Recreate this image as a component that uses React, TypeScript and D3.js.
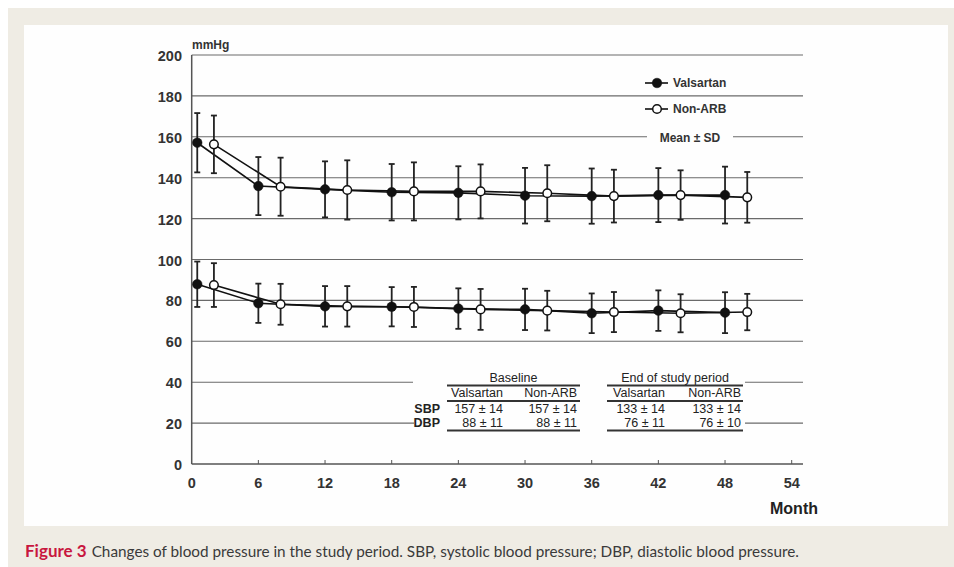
import React, { useRef, useEffect } from 'react';
import * as d3 from 'd3';

// months at which each group was measured (groups are offset so bars don't overlap)
const valsartanMonths = [0.5, 6, 12, 18, 24, 30, 36, 42, 48];
const nonArbMonths = [2, 8, 14, 20, 26, 32, 38, 44, 50];

const sbpValsartan = [157.1, 135.9, 134.3, 132.9, 132.6, 131.2, 131.0, 131.5, 131.5];
const sbpValsartanSd = [14.5, 14.2, 13.7, 13.8, 13.0, 13.6, 13.5, 13.2, 13.9];
const sbpNonArb = [156.3, 135.6, 134.0, 133.3, 133.3, 132.4, 131.0, 131.5, 130.4];
const sbpNonArbSd = [14.1, 14.2, 14.5, 14.2, 13.2, 13.7, 12.9, 12.1, 12.4];

const dbpValsartan = [87.9, 78.6, 77.1, 76.9, 76.0, 75.6, 73.7, 75.0, 74.0];
const dbpValsartanSd = [11.1, 9.6, 9.9, 9.6, 9.9, 10.1, 9.7, 9.9, 10.0];
const dbpNonArb = [87.5, 78.1, 77.1, 76.8, 75.6, 75.0, 74.3, 73.7, 74.3];
const dbpNonArbSd = [10.7, 10.0, 9.9, 9.8, 10.0, 9.7, 9.8, 9.3, 8.9];

const xTicks = [0, 6, 12, 18, 24, 30, 36, 42, 48, 54];
const yTicks = [0, 20, 40, 60, 80, 100, 120, 140, 160, 180, 200];

const tableHeaders = ['Valsartan', 'Non-ARB'];
const baselineRows = [['157 ± 14', '157 ± 14'], ['88 ± 11', '88 ± 11']];
const endRows = [['133 ± 14', '133 ± 14'], ['76 ± 11', '76 ± 10']];
const rowLabels = ['SBP', 'DBP'];

const W = 954;
const H = 567;
const FONT = '"Liberation Sans", Arial, Helvetica, sans-serif';

export default function App() {
  const svgRef = useRef<SVGSVGElement>(null);

  useEffect(() => {
    const svg = d3.select(svgRef.current);
    svg.selectAll('*').remove();

    // page background panels
    svg.append('rect').attr('width', W).attr('height', H).attr('fill', '#ffffff');
    svg.append('rect').attr('x', 8).attr('y', 8).attr('width', W - 8).attr('height', H - 8).attr('fill', '#efece4');
    svg.append('rect').attr('x', 24).attr('y', 25).attr('width', 924).attr('height', 501).attr('fill', '#fefefe');

    const x = d3.scaleLinear().domain([0, 54]).range([191.7, 791.7]);
    const y = d3.scaleLinear().domain([0, 200]).range([464, 55]);
    const right = 803;

    const g = svg.append('g');

    // horizontal grid lines, some broken around the annotations
    const segments: Record<number, [number, number][]> = {
      160: [[x(0), 647], [733, right]],
      40: [[x(0), 413], [745, right]],
      20: [[x(0), 414], [745, right]],
    };
    yTicks.filter(t => t > 0).forEach(t => {
      const segs = segments[t] || [[x(0), right]];
      segs.forEach(([a, b]) => {
        g.append('line')
          .attr('x1', a).attr('x2', b)
          .attr('y1', y(t)).attr('y2', y(t))
          .attr('stroke', '#6a6a6a').attr('stroke-width', 1.1);
      });
    });

    // axes
    g.append('line').attr('x1', x(0)).attr('x2', x(0)).attr('y1', y(200)).attr('y2', y(0))
      .attr('stroke', '#555').attr('stroke-width', 1.5);
    g.append('line').attr('x1', x(0)).attr('x2', right).attr('y1', y(0)).attr('y2', y(0))
      .attr('stroke', '#555').attr('stroke-width', 1.5);

    xTicks.filter(t => t > 0).forEach(t => {
      g.append('line').attr('x1', x(t)).attr('x2', x(t)).attr('y1', y(0)).attr('y2', y(0) - 4)
        .attr('stroke', '#555').attr('stroke-width', 1);
    });

    g.selectAll('.xlab').data(xTicks).enter().append('text')
      .attr('x', d => x(d)).attr('y', 483)
      .attr('text-anchor', 'middle').attr('dominant-baseline', 'central')
      .style('font-family', FONT).style('font-size', '14.5px').style('font-weight', 'bold')
      .style('fill', '#333').text(d => d);

    g.selectAll('.ylab').data(yTicks).enter().append('text')
      .attr('x', 182).attr('y', d => y(d) + 1)
      .attr('text-anchor', 'end').attr('dominant-baseline', 'central')
      .style('font-family', FONT).style('font-size', '14.5px').style('font-weight', 'bold')
      .style('fill', '#333').text(d => d);

    g.append('text').attr('x', 192).attr('y', 45).attr('dominant-baseline', 'central')
      .style('font-family', FONT).style('font-size', '12px').style('font-weight', 'bold')
      .style('fill', '#333').text('mmHg');

    g.append('text').attr('x', 818).attr('y', 508).attr('text-anchor', 'end').attr('dominant-baseline', 'central')
      .style('font-family', FONT).style('font-size', '16px').style('font-weight', 'bold')
      .style('fill', '#222').text('Month');

    // series
    const series = [
      { months: valsartanMonths, mean: sbpValsartan, sd: sbpValsartanSd, filled: true },
      { months: nonArbMonths, mean: sbpNonArb, sd: sbpNonArbSd, filled: false },
      { months: valsartanMonths, mean: dbpValsartan, sd: dbpValsartanSd, filled: true },
      { months: nonArbMonths, mean: dbpNonArb, sd: dbpNonArbSd, filled: false },
    ];

    series.forEach(s => {
      const pts = s.months.map((m, i) => [x(m), y(s.mean[i])] as [number, number]);
      g.append('path').attr('d', d3.line()(pts)!)
        .attr('fill', 'none').attr('stroke', '#111').attr('stroke-width', 1.6);
    });

    series.forEach(s => {
      s.months.forEach((m, i) => {
        const cx = x(m);
        const top = y(s.mean[i] + s.sd[i]);
        const bot = y(s.mean[i] - s.sd[i]);
        g.append('line').attr('x1', cx).attr('x2', cx).attr('y1', top).attr('y2', bot)
          .attr('stroke', '#222').attr('stroke-width', 1.8);
        [top, bot].forEach(yy => {
          g.append('line').attr('x1', cx - 3).attr('x2', cx + 3).attr('y1', yy).attr('y2', yy)
            .attr('stroke', '#222').attr('stroke-width', 1.8);
        });
      });
    });

    series.forEach(s => {
      s.months.forEach((m, i) => {
        g.append('circle').attr('cx', x(m)).attr('cy', y(s.mean[i]))
          .attr('r', s.filled ? 4.8 : 4.3)
          .attr('fill', s.filled ? '#111' : '#fff')
          .attr('stroke', '#111').attr('stroke-width', s.filled ? 0.5 : 1.5);
      });
    });

    // legend
    const legend = [
      { label: 'Valsartan', filled: true, yy: 83 },
      { label: 'Non-ARB', filled: false, yy: 109 },
    ];
    legend.forEach(l => {
      g.append('line').attr('x1', 645).attr('x2', 668).attr('y1', l.yy).attr('y2', l.yy)
        .attr('stroke', '#111').attr('stroke-width', 1.6);
      g.append('circle').attr('cx', 657).attr('cy', l.yy).attr('r', l.filled ? 4.8 : 4.3)
        .attr('fill', l.filled ? '#111' : '#fff').attr('stroke', '#111').attr('stroke-width', l.filled ? 0.5 : 1.5);
      g.append('text').attr('x', 673).attr('y', l.yy).attr('dominant-baseline', 'central')
        .style('font-family', FONT).style('font-size', '12px').style('font-weight', 'bold')
        .style('fill', '#333').text(l.label);
    });
    g.append('text').attr('x', 690).attr('y', y(160) + 1).attr('text-anchor', 'middle').attr('dominant-baseline', 'central')
      .style('font-family', FONT).style('font-size', '12px').style('font-weight', 'bold')
      .style('fill', '#333').text('Mean ± SD');

    // summary table
    const tableText = (tx: number, ty: number, s: string, anchor = 'end', weight = 'normal') =>
      g.append('text').attr('x', tx).attr('y', ty).attr('text-anchor', anchor).attr('dominant-baseline', 'central')
        .style('font-family', FONT).style('font-size', '12.5px').style('font-weight', weight)
        .style('fill', '#222').text(s);
    const hline = (a: number, b: number, yy: number, w: number) =>
      g.append('line').attr('x1', a).attr('x2', b).attr('y1', yy).attr('y2', yy)
        .attr('stroke', '#333').attr('stroke-width', w);

    const blocks = [
      { title: 'Baseline', rows: baselineRows, x0: 447, x1: 580, cols: [503, 577] },
      { title: 'End of study period', rows: endRows, x0: 607, x1: 743, cols: [665, 741] },
    ];
    const rowY = [409, 423.3];
    blocks.forEach(b => {
      tableText((b.x0 + b.x1) / 2, 378, b.title, 'middle');
      hline(b.x0, b.x1, 385.5, 2);
      tableHeaders.forEach((h, j) => tableText(b.cols[j], 393, h));
      hline(b.x0, b.x1, 401, 2);
      b.rows.forEach((r, i) => r.forEach((v, j) => tableText(b.cols[j], rowY[i], v)));
      hline(b.x0, b.x1, 430.5, 2);
    });
    rowLabels.forEach((l, i) => tableText(440, rowY[i], l, 'end', 'bold'));

    // caption
    const cap = svg.append('text').attr('x', 25).attr('y', 557)
      .style('font-family', 'Lato, "Open Sans", sans-serif').style('font-size', '15.3px').style('fill', '#3a3a3a');
    cap.append('tspan').style('font-weight', 'bold').style('font-size', '17px').style('fill', '#c8163e').text('Figure 3');
    cap.append('tspan').attr('dx', 5)
      .text('Changes of blood pressure in the study period. SBP, systolic blood pressure; DBP, diastolic blood pressure.');
  }, []);

  return (
    <svg
      ref={svgRef}
      width={W}
      height={H}
      style={{ position: 'absolute', left: 0, top: 0, display: 'block' }}
    />
  );
}
